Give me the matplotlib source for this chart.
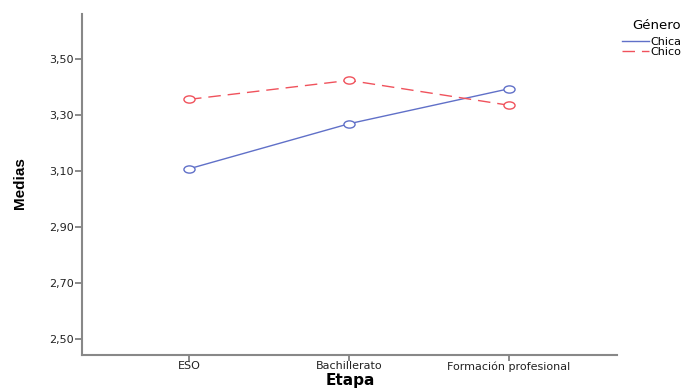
import matplotlib
matplotlib.use("Agg")
import matplotlib.pyplot as plt
from matplotlib.ticker import FuncFormatter
from matplotlib.path import Path
from matplotlib.transforms import Affine2D

etapas = ["ESO", "Bachillerato", "Formación profesional"]
chica = [3.108, 3.269, 3.394]
chico = [3.356, 3.424, 3.335]
yticks = [2.50, 2.70, 2.90, 3.10, 3.30, 3.50]

plt.rcParams['font.family'] = ['DejaVu Sans']

fig = plt.figure(figsize=(6.87, 3.90), dpi=100)
W, H = 687, 390
left, right, top, bottom = 82, 617, 14, 355
ax = fig.add_axes([left / W, 1 - bottom / H, (right - left) / W, (bottom - top) / H])

ellipse = Path.unit_circle().transformed(Affine2D().scale(1.0, 0.65))

x = list(range(len(etapas)))
blue = "#6070c8"
red = "#f0525c"
ax.plot(x, chica, color=blue, lw=1.0, marker=ellipse, ms=8, mfc='white', mec=blue, mew=1.0, label="Chica")
ax.plot(x, chico, color=red, lw=1.0, ls=(0, (9, 5)), marker=ellipse, ms=8, mfc='white', mec=red, mew=1.0, label="Chico")

ax.set_xlim(-0.669, 2.675)
ax.set_ylim(2.443, 3.661)
ax.set_xticks(x)
ax.set_xticklabels(etapas, fontsize=8, color="#222222")
ax.set_yticks(yticks)
ax.yaxis.set_major_formatter(FuncFormatter(lambda v, p: f"{v:.2f}".replace(".", ",")))
ax.tick_params(axis='y', labelsize=8, length=5, width=1.2, color="#777777", pad=1, labelcolor="#222222")
ax.tick_params(axis='x', length=4, width=1.2, color="#777777", pad=0.5)
for s in ["top", "right"]:
    ax.spines[s].set_visible(False)
for s in ["left", "bottom"]:
    ax.spines[s].set_color("#888888")
    ax.spines[s].set_linewidth(1.5)

fig.text(350 / W, 1 - 381 / H, "Etapa", fontsize=11, fontweight='bold', ha='center', va='center')
fig.text(20 / W, 1 - 183 / H, "Medias", fontsize=11, fontweight='bold', ha='center', va='center',
         rotation=90, family=['Liberation Sans', 'DejaVu Sans'])

leg = fig.legend(loc='upper right', bbox_to_anchor=(689 / W, 1 - 11 / H), frameon=False,
                 title="Género", fontsize=8, title_fontsize=9.5, handlelength=2.4,
                 handletextpad=0.1, labelspacing=0.0, borderpad=0.2)
for h in leg.legend_handles:
    h.set_marker('')
leg._legend_box.align = "right"
leg._legend_box.sep = 3.5

fig.savefig("out.png", dpi=100)
